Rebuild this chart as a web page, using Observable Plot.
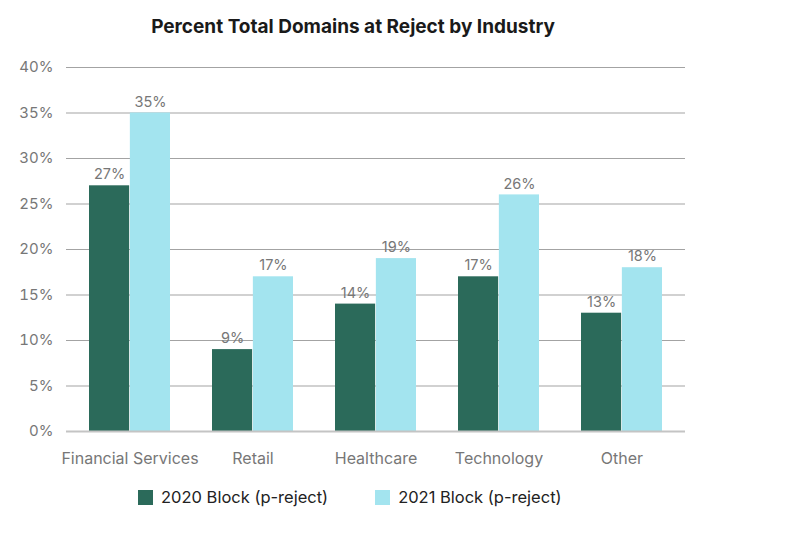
<!DOCTYPE html>
<html>
<head>
<meta charset="utf-8">
<script src="https://cdn.jsdelivr.net/npm/d3@7"></script>
<script src="https://cdn.jsdelivr.net/npm/@observablehq/plot@0.6"></script>
<style>
  body { margin: 0; background: #fff; font-family: Inter, "Open Sans", sans-serif; }
  #wrap { position: relative; width: 786px; height: 538px; }
  #title { position: absolute; top: 15px; left: 0; width: 706px; text-align: center;
           font-size: 19px; font-weight: 700; color: #1a1a1a; }
  #chart { position: absolute; top: 50px; left: 0; }
  #legend { position: absolute; top: 487px; left: 138px; display: flex; align-items: center;
            font-size: 16.5px; color: #222; }
  .sw { width: 15px; height: 15px; display: inline-block; margin-right: 8px; }
  .item { display: flex; align-items: center; margin-right: 47px; }
</style>
</head>
<body>
<div id="wrap">
  <div id="title">Percent Total Domains at Reject by Industry</div>
  <div id="chart"></div>
  <div id="legend"></div>
</div>
<script>
const categories = ["Financial Services", "Retail", "Healthcare", "Technology", "Other"];
const values2020 = [27, 9, 14, 17, 13];
const values2021 = [35, 17, 19, 26, 18];
const seriesNames = ["2020 Block (p-reject)", "2021 Block (p-reject)"];
const seriesColors = ["#2b6a5a", "#a3e4ef"];
const yTicks = [0, 5, 10, 15, 20, 25, 30, 35, 40];

const rows2020 = categories.map((c, i) => ({category: c, series: seriesNames[0], value: values2020[i]}));
const rows2021 = categories.map((c, i) => ({category: c, series: seriesNames[1], value: values2021[i]}));

const W = 786, ML = 66, MR = 101;
const step = (W - ML - MR) / categories.length;
const bw = step * 0.66;
const half = bw / 2;

const chart = Plot.plot({
  width: W,
  height: 430,
  marginLeft: ML,
  marginRight: MR,
  marginTop: 17,
  marginBottom: 49,
  style: {fontFamily: "Inter, 'Open Sans', sans-serif", background: "#fff"},
  x: {domain: categories, paddingInner: 0.34, paddingOuter: 0.17, label: null},
  y: {domain: [0, 40], label: null},
  marks: [
    Plot.ruleY(yTicks.filter(d => d > 0), {stroke: "#a3a3a3", strokeWidth: 1}),
    Plot.barY(rows2020, {x: "category", y: "value", fill: seriesColors[0], insetRight: half}),
    Plot.barY(rows2021, {x: "category", y: "value", fill: seriesColors[1], insetLeft: half}),
    Plot.ruleY([0], {stroke: "#c4c4c4", strokeWidth: 2}),
    Plot.text(rows2020, {x: "category", y: "value", text: d => d.value + "%", dx: -half / 2, dy: -11, fill: "#777", fontSize: 14.5}),
    Plot.text(rows2021, {x: "category", y: "value", text: d => d.value + "%", dx: half / 2, dy: -11, fill: "#777", fontSize: 14.5}),
    Plot.axisY({ticks: yTicks, tickFormat: d => d + "%", tickSize: 0, tickPadding: 13, fontSize: 15, color: "#777", label: null}),
    Plot.axisX({tickSize: 0, tickPadding: 21, fontSize: 16, color: "#777", label: null})
  ]
});
document.getElementById("chart").appendChild(chart);

const legend = document.getElementById("legend");
seriesNames.forEach((name, i) => {
  const item = document.createElement("div");
  item.className = "item";
  const sw = document.createElement("span");
  sw.className = "sw";
  sw.style.background = seriesColors[i];
  const t = document.createElement("span");
  t.textContent = name;
  item.appendChild(sw);
  item.appendChild(t);
  legend.appendChild(item);
});
</script>
</body>
</html>
